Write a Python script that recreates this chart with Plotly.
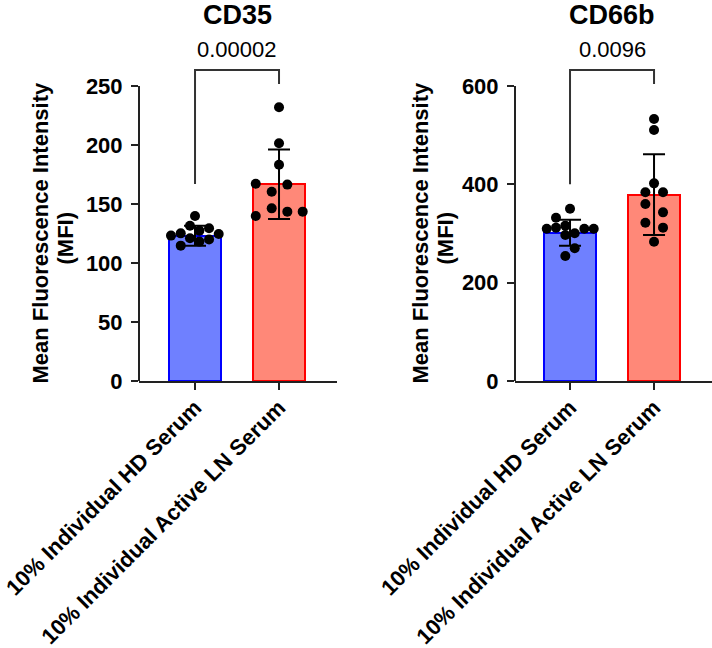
import plotly.graph_objects as go

# ---------------- data ----------------
groups = ["10% Individual HD Serum", "10% Individual Active LN Serum"]
panel_titles = ["CD35", "CD66b"]
p_values = ["0.00002", "0.0096"]

# bar heights (means) and SD
cd35_means = [123.0, 166.7]
cd35_sd = [8.5, 29.5]
cd66b_means = [301.6, 379.0]
cd66b_sd = [26.5, 82.0]

# individual points
cd35_hd = [139.8, 131.6, 129.4, 127.4, 125.1, 123.2, 124.6, 120.9, 118.1, 120.0, 114.7]
cd35_hd_jit = [0.0, -0.06, 0.167, 0.052, -0.17, -0.286, 0.282, -0.06, 0.052, 0.167, -0.17]
cd35_ln = [231.9, 201.4, 183.3, 167.2, 166.4, 160.4, 146.3, 143.5, 143.5, 139.8]
cd35_ln_jit = [0.0, 0.0, 0.0, -0.277, 0.099, -0.087, -0.087, 0.099, 0.282, -0.277]

cd66b_hd = [350.5, 332.2, 309.8, 311.9, 316.0, 309.8, 309.8, 297.0, 300.4, 269.9, 254.2]
cd66b_hd_jit = [0.0, -0.167, -0.277, -0.167, -0.056, 0.17, 0.282, -0.056, 0.056, 0.056, -0.056]
cd66b_ln = [532.9, 510.5, 402.0, 383.8, 383.8, 360.0, 343.0, 322.0, 311.9, 283.3]
cd66b_ln_jit = [0.0, 0.0, 0.0, -0.103, 0.107, -0.103, 0.107, -0.103, 0.107, 0.0]

# significance brackets: [left leg end, top, right leg end]
cd35_bracket = [167.0, 263.6, 251.7]
cd66b_bracket = [400.0, 632.5, 604.0]

cd35_ticks = [0, 50, 100, 150, 200, 250]
cd66b_ticks = [0, 200, 400, 600]

# ---------------- style ----------------
FONT = "Liberation Sans, Arial, Helvetica, sans-serif"
bar_fill = ["#6f80ff", "#ff8878"]
bar_edge = ["#0000ff", "#ff0000"]
axis_col = "#222222"

panels = [
    dict(means=cd35_means, sd=cd35_sd, pts=[(cd35_hd, cd35_hd_jit), (cd35_ln, cd35_ln_jit)],
         bracket=cd35_bracket, ticks=cd35_ticks, ytop=272.0, xr=[-0.667, 1.69], dom=[0.0, 0.3455]),
    dict(means=cd66b_means, sd=cd66b_sd, pts=[(cd66b_hd, cd66b_hd_jit), (cd66b_ln, cd66b_ln_jit)],
         bracket=cd66b_bracket, ticks=cd66b_ticks, ytop=652.9, xr=[-0.655, 1.69], dom=[0.6562, 1.0]),
]

fig = go.Figure()
shapes = []
annotations = []
layout = {}

for i, p in enumerate(panels):
    xa = "x" if i == 0 else "x2"
    ya = "y" if i == 0 else "y2"
    xkey = "xaxis" if i == 0 else "xaxis2"
    ykey = "yaxis" if i == 0 else "yaxis2"
    xdom = "x domain" if i == 0 else "x2 domain"
    ydom = "y domain" if i == 0 else "y2 domain"

    fig.add_trace(go.Bar(
        x=[0, 1], y=p["means"], width=0.63, xaxis=xa, yaxis=ya,
        marker=dict(color=bar_fill, line=dict(color=bar_edge, width=2)),
        error_y=dict(type="data", array=p["sd"], color="black", thickness=2, width=11),
        showlegend=False, hoverinfo="y",
    ))
    for g, (vals, jit) in enumerate(p["pts"]):
        fig.add_trace(go.Scatter(
            x=[g + j for j in jit], y=vals, mode="markers", xaxis=xa, yaxis=ya,
            marker=dict(color="black", size=10), showlegend=False, cliponaxis=False,
        ))

    layout[xkey] = dict(
        domain=p["dom"], range=p["xr"], anchor=ya, automargin=False,
        tickmode="array", tickvals=[0, 1], ticktext=groups, tickangle=-45,
        ticks="outside", ticklen=7, tickwidth=2, tickcolor=axis_col,
        showline=True, linecolor=axis_col, linewidth=2,
        showgrid=False, zeroline=False, fixedrange=True,
        ticklabelstandoff=-4,
        tickfont=dict(family=FONT, size=22, color="black", weight="bold"),
    )
    layout[ykey] = dict(
        domain=[0, 1], range=[0, p["ytop"]], anchor=xa, automargin=False,
        tickmode="array", tickvals=p["ticks"],
        ticks="outside", ticklen=7, tickwidth=2, tickcolor=axis_col,
        showline=False, showgrid=False, zeroline=False, fixedrange=True,
        ticklabelstandoff=4,
        tickfont=dict(family=FONT, size=22, color="black", weight="bold"),
    )

    # y axis line only up to the top tick
    shapes.append(dict(type="line", xref="paper", yref="paper",
                       x0=p["dom"][0], x1=p["dom"][0], y0=0, y1=max(p["ticks"]) / p["ytop"],
                       line=dict(color=axis_col, width=2)))
    # significance bracket
    lft, top, rgt = p["bracket"]
    shapes.append(dict(type="path", xref=xa, yref=ya,
                       path=f"M 0,{lft} L 0,{top} L 1,{top} L 1,{rgt}",
                       line=dict(color="#333333", width=2)))
    annotations.append(dict(xref=xa, yref=ya, x=0.5, y=top, text=p_values[i],
                            showarrow=False, yanchor="bottom", yshift=6,
                            font=dict(family=FONT, size=22, color="black")))
    annotations.append(dict(xref=xa, yref="paper", x=0.5, y=1, text=panel_titles[i],
                            showarrow=False, yanchor="bottom", yshift=28,
                            font=dict(family=FONT, size=27, color="black", weight="bold")))
    # y-axis title (two lines)
    s = -99 if i == 0 else -95
    annotations.append(dict(xref=xdom, yref=ydom, x=0, y=0.5, text="Mean Fluorescence Intensity",
                            showarrow=False, textangle=-90, xanchor="center", yanchor="middle",
                            xshift=s, yshift=-12,
                            font=dict(family=FONT, size=22, color="black", weight="bold")))
    annotations.append(dict(xref=xdom, yref=ydom, x=0, y=0.5, text="(MFI)",
                            showarrow=False, textangle=-90, xanchor="center", yanchor="middle",
                            xshift=s + 25, yshift=-18,
                            font=dict(family=FONT, size=22, color="black", weight="bold")))

fig.update_layout(
    width=712, height=648,
    margin=dict(l=139, r=0, t=60, b=267, autoexpand=False),
    paper_bgcolor="white", plot_bgcolor="white",
    shapes=shapes, annotations=annotations,
    font=dict(family=FONT, color="black"),
    bargap=0, **layout,
)

fig.write_html("out.html", config={"displayModeBar": False},
               post_script="document.body.style.margin='0px';document.body.style.overflow='hidden';")
